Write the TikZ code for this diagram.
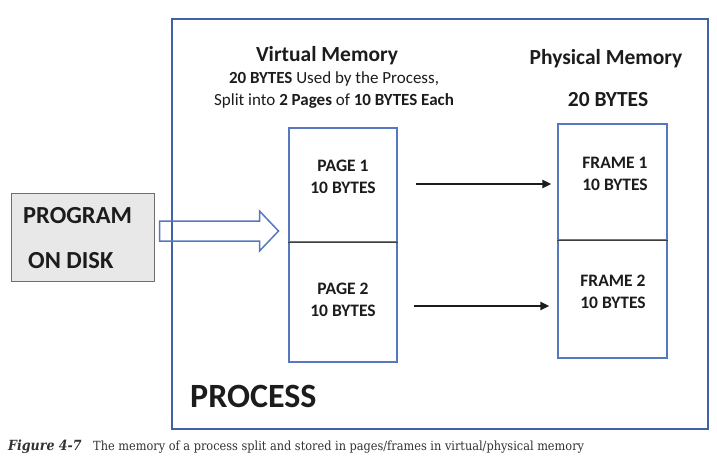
\documentclass[tikz,border=0pt]{standalone}
\usepackage{fontspec}
\setmainfont{Carlito}
\newfontfamily\capfont{DejaVu Serif Condensed}
\usetikzlibrary{arrows.meta,calc}
\definecolor{ProcBlue}{RGB}{66,98,166}
\definecolor{BoxBlue}{RGB}{86,120,192}
\definecolor{DiskGray}{RGB}{232,232,232}
\definecolor{DiskEdge}{RGB}{110,110,110}
\definecolor{InkBlack}{RGB}{28,28,28}
\definecolor{CapGray}{RGB}{50,50,50}

\begin{document}
\begin{tikzpicture}[x=1pt,y=-1pt, every node/.style={text=InkBlack, inner sep=0pt, align=center}]
\tikzset{
  membox/.style={draw=BoxBlue, line width=1.4pt, rectangle},
  slot/.style={font=\fontsize{17.5}{22}\selectfont\bfseries},
  divider/.style={line width=1.5pt, InkBlack!85},
  map/.style={-{Triangle[length=9pt,width=8pt]}, line width=2.5pt, InkBlack},
  loadarrow/.style={draw=BoxBlue, line width=1.5pt, line join=miter}
}
  \useasboundingbox (0,0) rectangle (717,475);

  % process outline and its titles
  \node[draw=ProcBlue, line width=1.8pt, minimum width=536pt, minimum height=410pt] (process) at (440,224) {};
  \node[anchor=base west, font=\fontsize{34}{40}\selectfont\bfseries] (proclabel) at (190,407) {PROCESS};

  \node[anchor=base, font=\fontsize{21.5}{25}\selectfont\bfseries] (vmtitle) at (327,61) {Virtual Memory};
  \node[anchor=base, font=\fontsize{17}{20}\selectfont] (vmsize) at (334,83) {\textbf{20 BYTES} Used by the Process,};
  \node[anchor=base, font=\fontsize{17}{20}\selectfont] (vmsplit) at (334,105) {Split into \textbf{2 Pages} of \textbf{10 BYTES Each}};
  \node[anchor=base, font=\fontsize{21.5}{25}\selectfont\bfseries] (pmtitle) at (606,64) {Physical Memory};
  \node[anchor=base, font=\fontsize{21.5}{25}\selectfont\bfseries] (pmsize) at (608,106) {20 BYTES};

  % virtual pages
  \node[membox, minimum width=108pt, minimum height=114pt] (page1) at (343,185) {};
  \node[membox, minimum width=108pt, minimum height=120pt] (page2) at (343,302) {};
  \draw[divider] (page1.south west) -- (page1.south east);
  \node[slot] (page1txt) at (343,177) {PAGE 1\\10 BYTES};
  \node[slot] (page2txt) at (343,300) {PAGE 2\\10 BYTES};

  % physical frames
  \node[membox, minimum width=109pt, minimum height=116pt] (frame1) at (612.5,182) {};
  \node[membox, minimum width=109pt, minimum height=118pt] (frame2) at (612.5,299) {};
  \draw[divider] (frame1.south west) -- (frame1.south east);
  \node[slot] (frame1txt) at (615,174) {FRAME 1\\10 BYTES};
  \node[slot] (frame2txt) at (613,292) {FRAME 2\\10 BYTES};

  \draw[map] ([xshift=18pt,yshift=1pt]page1.east) -- ([xshift=-6pt,yshift=1pt]page1.east -| frame1.west);
  \draw[map] ([xshift=16pt,yshift=-4pt]page2.east) -- ([xshift=-8pt,yshift=-4pt]page2.east -| frame2.west);

  % program on disk, loaded into the process
  \node[draw=DiskEdge, fill=DiskGray, line width=1pt, minimum width=143pt, minimum height=88pt] (disk) at (82.5,237) {};
  \node[anchor=base west, font=\fontsize{24.5}{28}\selectfont\bfseries] (disktop) at (23,223) {PROGRAM};
  \node[anchor=base west, font=\fontsize{24.5}{28}\selectfont\bfseries] (diskbot) at (28,268) {ON DISK};
  \coordinate (load) at ([xshift=5pt,yshift=6pt]disk.east);
  \draw[loadarrow] (load) ++(0,-10) -- ++(100,0) -- ++(0,-10) -- ++(19,20) -- ++(-19,20) -- ++(0,-10) -- ++(-100,0) -- cycle;

  % caption
  \node[anchor=base west, font=\capfont\fontsize{14}{16}\selectfont\bfseries\itshape, text=CapGray] (figno) at (8,450) {Figure 4-7};
  \node[anchor=base west, font=\capfont\fontsize{12.6}{15}\selectfont, text=CapGray] (figtext) at (93,450)
    {The memory of a process split and stored in pages/frames in virtual/physical memory};
\end{tikzpicture}
\end{document}
